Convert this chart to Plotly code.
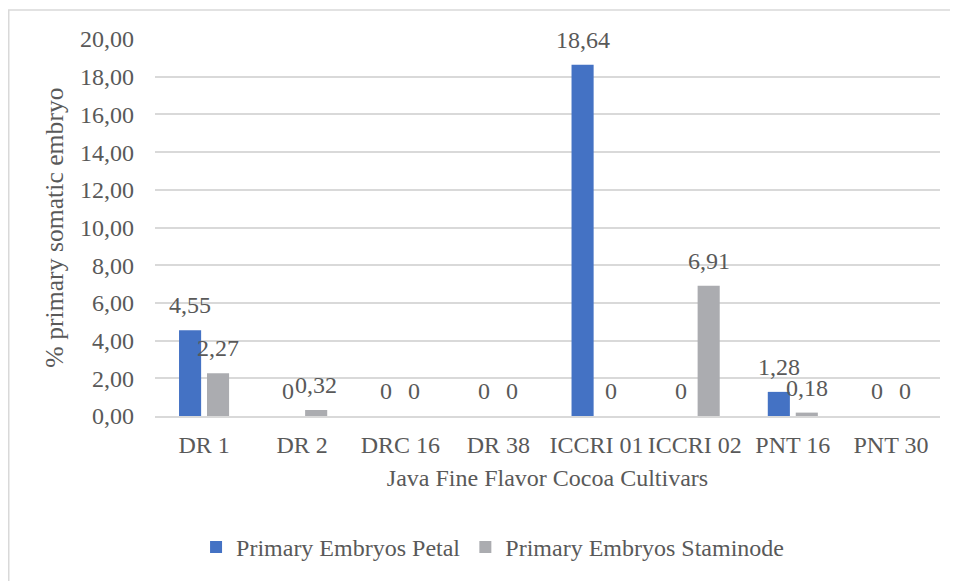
import plotly.graph_objects as go

categories = ["DR 1", "DR 2", "DRC 16", "DR 38", "ICCRI 01", "ICCRI 02", "PNT 16", "PNT 30"]
petal = [4.55, 0, 0, 0, 18.64, 0, 1.28, 0]
staminode = [2.27, 0.32, 0, 0, 0, 6.91, 0.18, 0]
series_names = ["Primary Embryos Petal", "Primary Embryos Staminode"]
colors = ["#4472C4", "#ABACB0"]

FONT = "Liberation Serif, Times New Roman, serif"
TXT = "#595959"
FS = 24

W, H = 950, 573
L, R, T, B = 147, 18, 31, 164
BARGAP = 0.43
GROUPGAP = 0.21


def fmt(v):
    return "0" if v == 0 else f"{v:.2f}".replace(".", ",")


fig = go.Figure()
for name, vals, col in zip(series_names, [petal, staminode], colors):
    fig.add_trace(go.Bar(x=categories, y=vals, name=name, marker_color=col,
                         marker_line_width=0))

plot_w = W - L - R
plot_h = H - T - B
cat_w = plot_w / len(categories)
slot = cat_w * (1 - BARGAP) / 2
annots = []
for k, vals in enumerate([petal, staminode]):
    shift = (k - 0.5) * slot
    for c, v in zip(categories, vals):
        annots.append(dict(x=c, y=v, xref="x", yref="y", text=fmt(v), showarrow=False,
                           xanchor="center", yanchor="bottom", xshift=shift, yshift=10,
                           font=dict(family=FONT, size=FS, color=TXT)))

# chart-area border (top/left visible)
x0 = (0.75 - L) / plot_w
x1 = (975 - L) / plot_w
y1 = (H - B - 2) / plot_h
y0 = (H - B - 600) / plot_h

fig.update_layout(
    width=W, height=H,
    margin=dict(l=L, r=R, t=T, b=B),
    paper_bgcolor="white", plot_bgcolor="white",
    separators=",.",
    barmode="group", bargap=BARGAP, bargroupgap=GROUPGAP,
    font=dict(family=FONT, size=FS, color=TXT),
    annotations=annots,
    shapes=[dict(type="rect", xref="paper", yref="paper", x0=x0, x1=x1, y0=y0, y1=y1,
                 line=dict(color="#D9D9D9", width=1.5), layer="below")],
    showlegend=True,
    legend=dict(orientation="h", x=0.43, xanchor="center", y=-0.345, yanchor="middle",
                font=dict(family=FONT, size=FS, color=TXT), itemwidth=30,
                traceorder="normal"),
    xaxis=dict(showgrid=False, showline=True, linecolor="#D9D9D9", linewidth=1.5,
               ticks="", ticklabelstandoff=6,
               title=dict(text="Java Fine Flavor Cocoa Cultivars", standoff=13,
                          font=dict(family=FONT, size=FS, color=TXT))),
    yaxis=dict(range=[0, 20], dtick=2, tickformat=".2f", showgrid=True,
               gridcolor="#D9D9D9", gridwidth=1.5, zeroline=False, showline=False,
               ticks="", ticklabelstandoff=20,
               title=dict(text="% primary somatic embryo", standoff=9,
                          font=dict(family=FONT, size=25.7, color=TXT))),
)

fig.write_html("out.html")
